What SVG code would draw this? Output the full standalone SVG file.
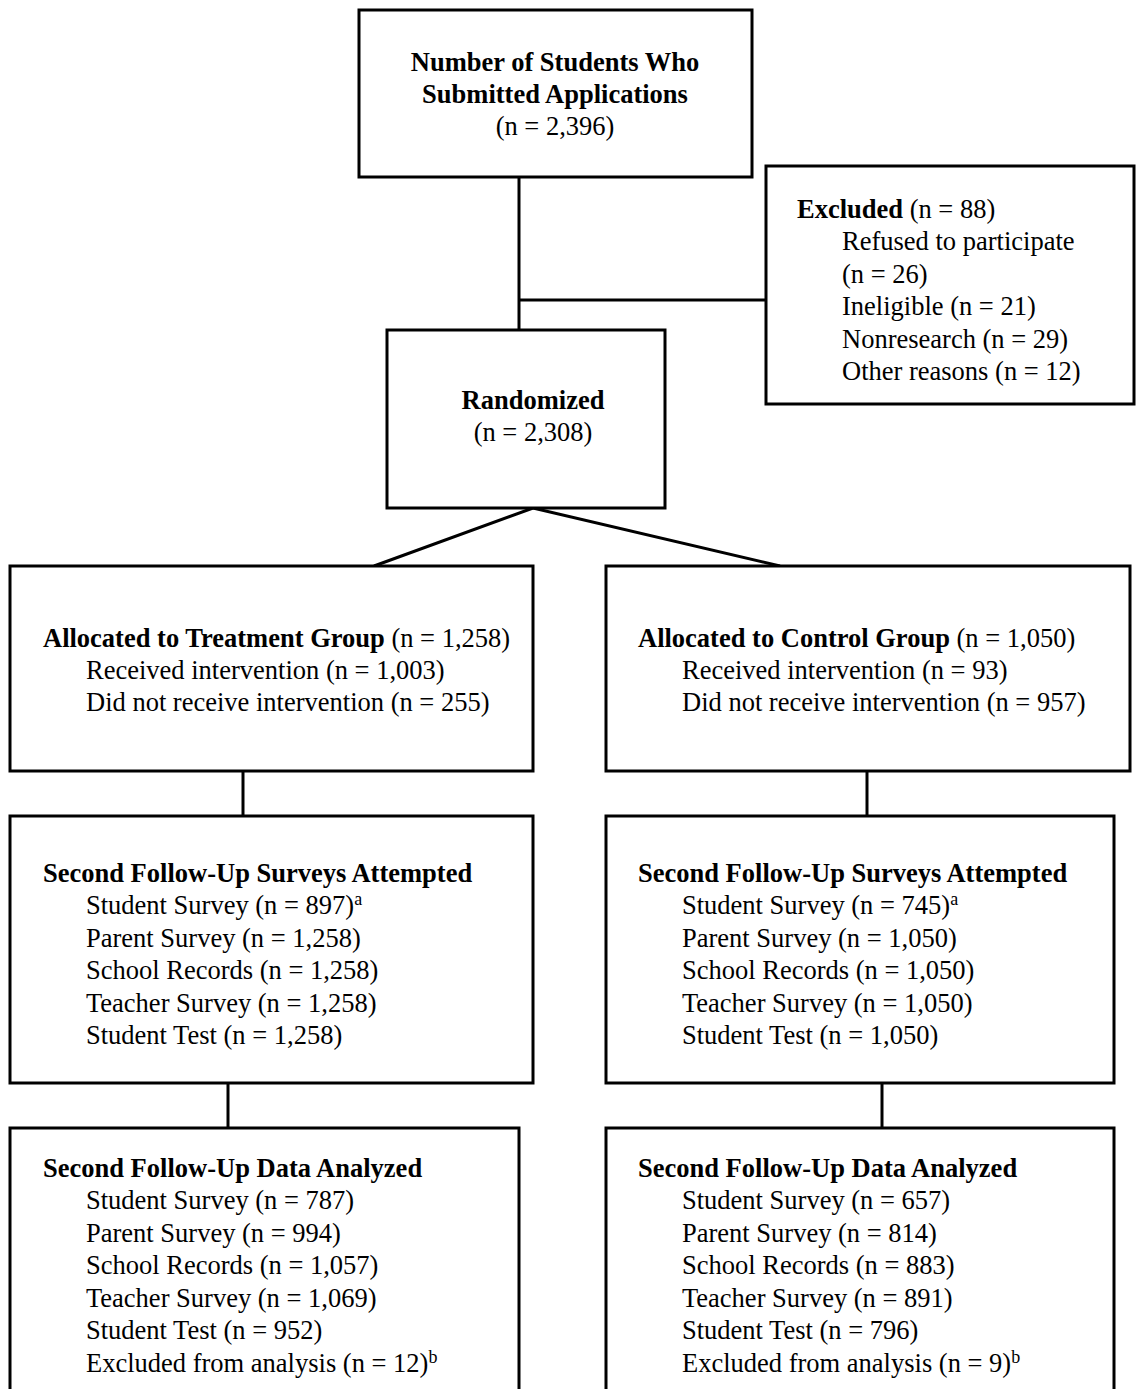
<svg xmlns="http://www.w3.org/2000/svg" width="1136" height="1389" viewBox="0 0 1136 1389">
<style>
.box{fill:#fff;stroke:#000;stroke-width:3}
.ln{stroke:#000;stroke-width:3;fill:none}
text{font-family:"Liberation Serif","Times New Roman",serif;font-size:26.5px;fill:#000}
.b{font-weight:bold}
.c{text-anchor:middle}
.sup{font-size:18px}
</style>
<rect width="1136" height="1389" fill="#fff"/>
<g id="connectors">
<line class="ln" x1="519" y1="177" x2="519" y2="330"/>
<line class="ln" x1="519" y1="300" x2="766" y2="300"/>
<polyline class="ln" points="374,566 533,508 780,566"/>
<line class="ln" x1="243" y1="771" x2="243" y2="816"/>
<line class="ln" x1="867" y1="771" x2="867" y2="816"/>
<line class="ln" x1="228" y1="1083" x2="228" y2="1128"/>
<line class="ln" x1="882" y1="1083" x2="882" y2="1128"/>
</g>
<g id="n-applications">
<rect class="box" x="359" y="10" width="393" height="167"/>
<text class="b c" x="555" y="71">Number of Students Who</text>
<text class="b c" x="555" y="103">Submitted Applications</text>
<text class="c" x="555" y="135">(n = 2,396)</text>
</g>
<g id="n-excluded">
<rect class="box" x="766" y="166" width="368" height="238"/>
<text x="797" y="218"><tspan class="b">Excluded</tspan> (n = 88)</text>
<text x="842" y="250">Refused to participate</text>
<text x="842" y="283">(n = 26)</text>
<text x="842" y="315">Ineligible (n = 21)</text>
<text x="842" y="348">Nonresearch (n = 29)</text>
<text x="842" y="380">Other reasons (n = 12)</text>
</g>
<g id="n-randomized">
<rect class="box" x="387" y="330" width="278" height="178"/>
<text class="b c" x="533" y="409">Randomized</text>
<text class="c" x="533" y="441">(n = 2,308)</text>
</g>
<g id="n-treatment">
<rect class="box" x="10" y="566" width="523" height="205"/>
<text x="43" y="647"><tspan class="b">Allocated to Treatment Group</tspan> (n = 1,258)</text>
<text x="86" y="679">Received intervention (n = 1,003)</text>
<text x="86" y="711">Did not receive intervention (n = 255)</text>
</g>
<g id="n-control">
<rect class="box" x="606" y="566" width="524" height="205"/>
<text x="638" y="647"><tspan class="b">Allocated to Control Group</tspan> (n = 1,050)</text>
<text x="682" y="679">Received intervention (n = 93)</text>
<text x="682" y="711">Did not receive intervention (n = 957)</text>
</g>
<g id="n-survey-treatment">
<rect class="box" x="10" y="816" width="523" height="267"/>
<text class="b" x="43" y="882">Second Follow-Up Surveys Attempted</text>
<text x="86" y="914">Student Survey (n = 897)<tspan class="sup" dy="-9">a</tspan></text>
<text x="86" y="947">Parent Survey (n = 1,258)</text>
<text x="86" y="979">School Records (n = 1,258)</text>
<text x="86" y="1012">Teacher Survey (n = 1,258)</text>
<text x="86" y="1044">Student Test (n = 1,258)</text>
</g>
<g id="n-survey-control">
<rect class="box" x="606" y="816" width="508" height="267"/>
<text class="b" x="638" y="882">Second Follow-Up Surveys Attempted</text>
<text x="682" y="914">Student Survey (n = 745)<tspan class="sup" dy="-9">a</tspan></text>
<text x="682" y="947">Parent Survey (n = 1,050)</text>
<text x="682" y="979">School Records (n = 1,050)</text>
<text x="682" y="1012">Teacher Survey (n = 1,050)</text>
<text x="682" y="1044">Student Test (n = 1,050)</text>
</g>
<g id="n-analyzed-treatment">
<rect class="box" x="10" y="1128" width="509" height="280"/>
<text class="b" x="43" y="1177">Second Follow-Up Data Analyzed</text>
<text x="86" y="1209">Student Survey (n = 787)</text>
<text x="86" y="1242">Parent Survey (n = 994)</text>
<text x="86" y="1274">School Records (n = 1,057)</text>
<text x="86" y="1307">Teacher Survey (n = 1,069)</text>
<text x="86" y="1339">Student Test (n = 952)</text>
<text x="86" y="1372">Excluded from analysis (n = 12)<tspan class="sup" dy="-9">b</tspan></text>
</g>
<g id="n-analyzed-control">
<rect class="box" x="606" y="1128" width="508" height="280"/>
<text class="b" x="638" y="1177">Second Follow-Up Data Analyzed</text>
<text x="682" y="1209">Student Survey (n = 657)</text>
<text x="682" y="1242">Parent Survey (n = 814)</text>
<text x="682" y="1274">School Records (n = 883)</text>
<text x="682" y="1307">Teacher Survey (n = 891)</text>
<text x="682" y="1339">Student Test (n = 796)</text>
<text x="682" y="1372">Excluded from analysis (n = 9)<tspan class="sup" dy="-9">b</tspan></text>
</g>
</svg>
